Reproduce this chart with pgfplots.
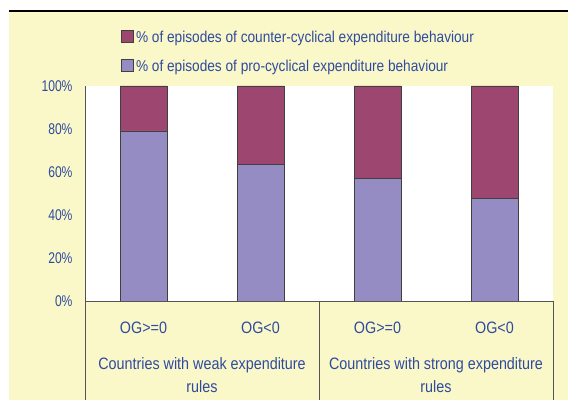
\documentclass[border=0pt]{standalone}
\usepackage{pgfplots}
\pgfplotsset{compat=1.18}
\usepackage{fontspec}
\setmainfont[FakeStretch=0.87]{Liberation Sans}
\newfontfamily\tickfont[FakeStretch=0.78]{Liberation Sans}
\definecolor{bg}{HTML}{FAF7C9}
\definecolor{txt}{HTML}{2F4B9E}
\definecolor{cc}{HTML}{9D4670}
\definecolor{pc}{HTML}{958CC4}
\definecolor{ax}{HTML}{555555}
\begin{document}
\begin{tikzpicture}[x=1bp,y=1bp]
\path[use as bounding box] (0,0) rectangle (568,403);
\fill[bg] (9,3) rectangle (568,392);
\draw[black, line width=1.5bp] (9,392) -- (568,392);
\begin{axis}[at={(85bp,102bp)}, anchor=south west, scale only axis,
  width=468bp, height=215bp,
  ybar stacked, bar width=47bp,
  xmin=-0.5, xmax=3.5, ymin=0, ymax=100,
  axis background/.style={fill=white},
  axis line style={draw=none},
  major tick style={draw=none},
  xtick={0,1,2,3}, xticklabels={OG>=0,OG<0,OG>=0,OG<0},
  xticklabel style={font=\fontsize{16.5bp}{20bp}\selectfont, text=txt, yshift=-17bp},
  ytick={0,20,40,60,80,100},
  yticklabel={\pgfmathprintnumber{\tick}\%},
  yticklabel style={font=\tickfont\fontsize{15.5bp}{18bp}\selectfont, text=txt, xshift=-9bp},
  /pgf/number format/assume math mode=true,
  legend style={at={(axis description cs:0.077,1.265)}, anchor=north west,
    draw=none, fill=none, inner sep=0pt, row sep=12bp,
    font=\fontsize{15.7bp}{19bp}\selectfont, text=txt},
  legend cell align=left, reverse legend,
  legend image code/.code={\draw[#1, draw=black!75, line width=0.8bp] (0bp,-5bp) rectangle (12bp,7bp);},
  every axis plot/.append style={draw=black!75, line width=0.8bp},
]
\addplot[fill=pc] coordinates {(0,79.1) (1,63.6) (2,56.9) (3,47.8)};
\addplot[fill=cc] coordinates {(0,20.9) (1,36.4) (2,43.1) (3,52.2)};
\legend{\% of episodes of pro-cyclical expenditure behaviour,\% of episodes of counter-cyclical expenditure behaviour}
\end{axis}
\draw[ax, line width=1bp] (85,317) -- (85,3);
\draw[ax, line width=1bp] (85,102) -- (553,102);
\draw[ax, line width=1bp] (319,102) -- (319,3);
\draw[ax, line width=1bp] (553,102) -- (553,3);
\node[align=center, text=txt, font=\fontsize{16.5bp}{23bp}\selectfont] at (202,27.5) {Countries with weak expenditure\\rules};
\node[align=center, text=txt, font=\fontsize{16.5bp}{23bp}\selectfont] at (436,27.5) {Countries with strong expenditure\\rules};
\end{tikzpicture}
\end{document}
